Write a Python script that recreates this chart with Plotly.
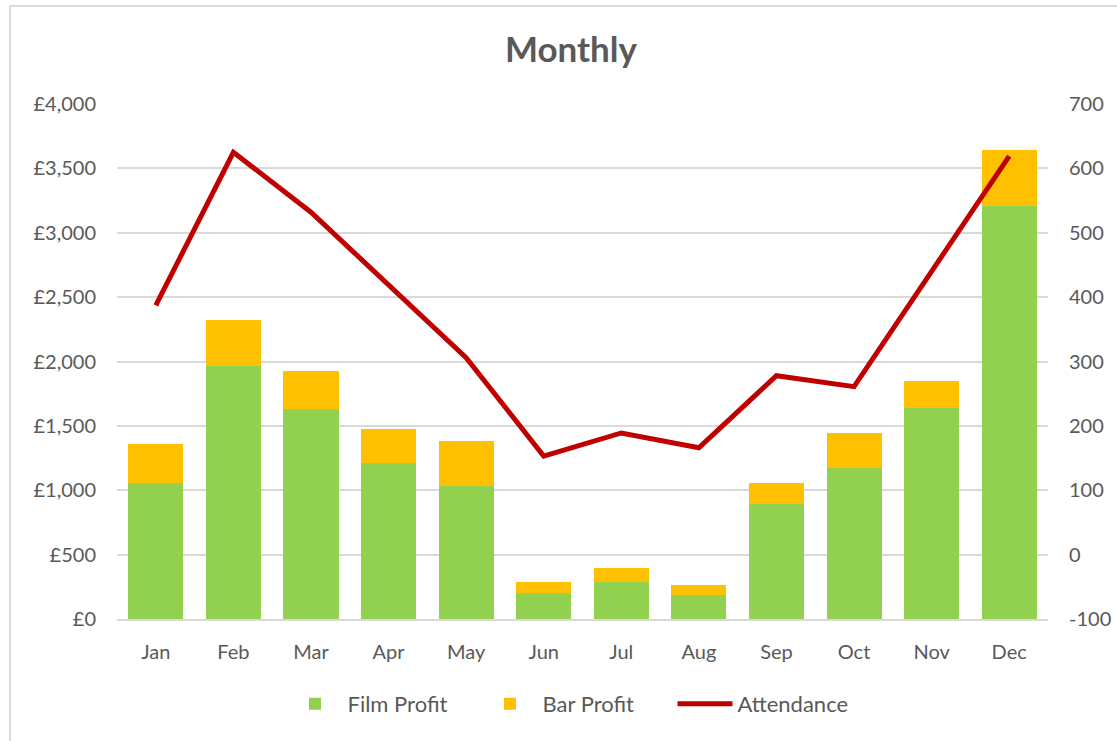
import plotly.graph_objects as go

months = ["Jan", "Feb", "Mar", "Apr", "May", "Jun", "Jul", "Aug", "Sep", "Oct", "Nov", "Dec"]
film_profit = [1060, 1965, 1630, 1210, 1030, 205, 285, 185, 890, 1170, 1640, 3210]
bar_profit = [300, 360, 300, 265, 350, 85, 115, 80, 170, 275, 205, 430]
attendance = [387, 625, 532, 418, 306, 153, 189, 166, 278, 261, 441, 619]

left_ticks = [0, 500, 1000, 1500, 2000, 2500, 3000, 3500, 4000]
left_labels = ["\u00a3{:,}".format(v) for v in left_ticks]
right_ticks = [-100, 0, 100, 200, 300, 400, 500, 600, 700]
right_labels = [str(v) for v in right_ticks]

FONT = "Lato, 'Open Sans', sans-serif"
GRAY = "#595959"

W, H = 1117, 741
L, R, T, B = 117, 1048, 104, 619

fig = go.Figure()
fig.add_trace(go.Bar(x=months, y=film_profit, name="Film Profit",
                     marker=dict(color="#92D050", line=dict(width=0))))
fig.add_trace(go.Bar(x=months, y=bar_profit, name="Bar Profit",
                     marker=dict(color="#FFC000", line=dict(width=0))))
fig.add_trace(go.Scatter(x=months, y=attendance, name="Attendance", yaxis="y2",
                         mode="lines", line=dict(color="#C00000", width=5)))

def px_to_paper_x(px):
    return (px - L) / (R - L)

def px_to_paper_y(py):
    return (B - py) / (B - T)

fig.update_layout(
    width=W, height=H,
    margin=dict(l=L, r=W - R, t=T, b=H - B, autoexpand=False),
    paper_bgcolor="white", plot_bgcolor="white",
    barmode="stack", bargap=0.29,
    title=dict(text="<b>Monthly</b>", x=571 / W, xanchor="center", y=1 - 50 / H, yanchor="middle",
               font=dict(family=FONT, size=35, color=GRAY)),
    font=dict(family=FONT, size=20, color=GRAY),
    xaxis=dict(showgrid=False, showline=True, linecolor="#D9D9D9", linewidth=1.5,
               ticks="", ticklabelstandoff=14, tickfont=dict(size=20, color=GRAY)),
    yaxis=dict(range=[0, 4000], tickvals=left_ticks, ticktext=left_labels,
               showgrid=True, gridcolor="#D9D9D9", gridwidth=1.5, zeroline=False,
               showline=False, ticks="", ticklabelstandoff=20,
               tickfont=dict(size=20, color=GRAY)),
    yaxis2=dict(range=[-100, 700], tickvals=right_ticks, ticktext=right_labels,
                overlaying="y", side="right",
                showgrid=False, zeroline=False, showline=False, ticks="",
                ticklabelstandoff=20, tickfont=dict(size=20, color=GRAY)),
    legend=dict(orientation="h", x=px_to_paper_x(575), xanchor="center", y=px_to_paper_y(704),
                yanchor="middle", font=dict(size=22, color=GRAY), traceorder="normal",
                itemwidth=55, entrywidth=125, entrywidthmode="pixels",
                bgcolor="rgba(0,0,0,0)"),
    shapes=[
        dict(type="line", xref="paper", yref="paper",
             x0=px_to_paper_x(10), x1=px_to_paper_x(1117),
             y0=px_to_paper_y(6), y1=px_to_paper_y(6),
             line=dict(color="#D9D9D9", width=2)),
        dict(type="line", xref="paper", yref="paper",
             x0=px_to_paper_x(10), x1=px_to_paper_x(10),
             y0=px_to_paper_y(6), y1=px_to_paper_y(741),
             line=dict(color="#D9D9D9", width=2)),
    ],
)

fig.write_html("out.html", config={"displayModeBar": False},
               post_script="document.body.style.margin='0';document.body.style.overflow='hidden';")
